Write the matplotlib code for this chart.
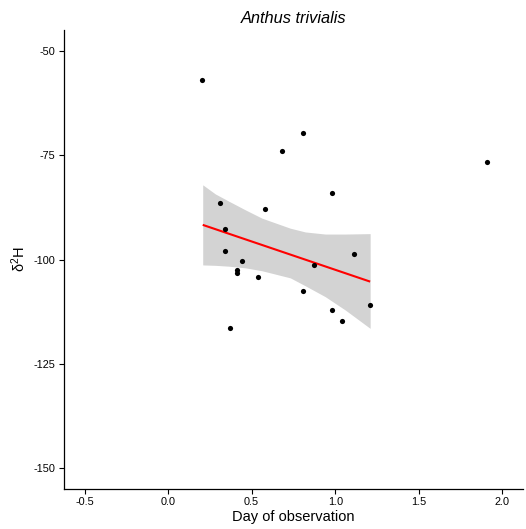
import numpy as np
import matplotlib
matplotlib.use("Agg")
import matplotlib.pyplot as plt

plt.rcParams['font.family'] = ['Liberation Sans', 'DejaVu Sans']
plt.rcParams['mathtext.fontset'] = 'custom'
plt.rcParams['mathtext.rm'] = 'Liberation Sans'
plt.rcParams['mathtext.it'] = 'Liberation Sans:italic'
plt.rcParams['mathtext.default'] = 'regular'

title = "Anthus trivialis"
x_label = "Day of observation"
y_label = r"$\delta^2$H"

# observations
day = [0.20, 0.81, 0.68, 1.91, 0.98, 0.31, 0.58, 0.34, 0.34, 0.44,
       0.41, 0.41, 0.54, 0.87, 1.11, 0.81, 0.98, 1.04, 1.21, 0.37]
d2h = [-56.9, -69.8, -74.1, -76.7, -84.0, -86.4, -88.0, -92.8, -97.9, -100.4,
       -102.5, -103.2, -104.1, -101.2, -98.8, -107.6, -112.2, -114.7, -110.9, -116.5]

# fitted trend line
fit_x = [0.207, 1.209]
fit_y = [-91.7, -105.3]

# confidence band edges
band_x = [0.207, 0.283, 0.362, 0.462, 0.562, 0.731, 0.821, 0.94, 1.06, 1.209]
band_hi = [-82.1, -84.3, -86.0, -88.1, -90.1, -92.5, -93.4, -93.9, -93.9, -93.8]
band_lo = [-101.3, -101.4, -101.6, -102.0, -102.7, -104.4, -106.3, -108.9, -112.1, -116.5]

x_ticks = [-0.5, 0.0, 0.5, 1.0, 1.5, 2.0]
y_ticks = [-150, -125, -100, -75, -50]

fig = plt.figure(figsize=(5.26, 5.29), dpi=100)
ax = fig.add_axes([63.7 / 526, 40 / 529, (523.2 - 63.7) / 526, (499 - 40) / 529])

ax.fill_between(band_x, band_lo, band_hi, color='#d3d3d3', lw=0, zorder=1)
ax.plot(fit_x, fit_y, color='#ff0000', lw=1.5, zorder=2, solid_capstyle='butt')
ax.scatter(day, d2h, s=14, color='black', lw=0, zorder=3)

ax.set_xlim(-0.625, 2.125)
ax.set_ylim(-155, -45)
ax.set_xticks(x_ticks)
ax.set_xticklabels([f"{v:.1f}" for v in x_ticks])
ax.set_yticks(y_ticks)
ax.set_yticklabels([str(v) for v in y_ticks])
for sp in ['top', 'right']:
    ax.spines[sp].set_visible(False)
for sp in ['left', 'bottom']:
    ax.spines[sp].set_linewidth(0.9)
ax.tick_params(axis='both', length=3.5, width=0.8, labelsize=7.8, colors='black', pad=2.5)

ax.set_title(title, fontstyle='italic', fontsize=11.8, pad=5)
ax.set_xlabel(x_label, fontsize=10.5, labelpad=2)
ax.set_ylabel(y_label, fontsize=10.5, labelpad=4)

fig.savefig("out.png", dpi=100)
